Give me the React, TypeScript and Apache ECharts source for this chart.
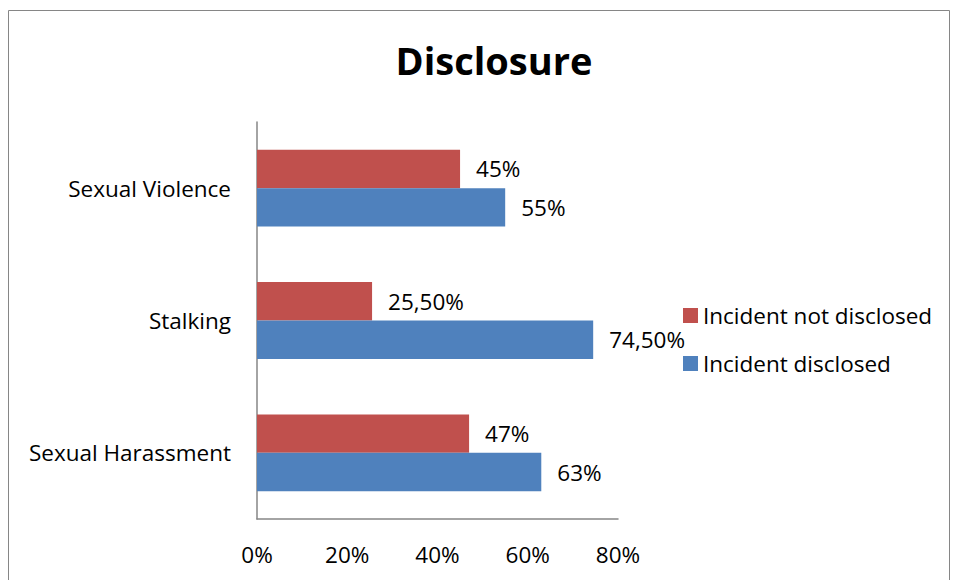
import React, { useEffect, useRef } from "react";
import * as echarts from "echarts";

const categories = ["Sexual Harassment", "Stalking", "Sexual Violence"];
const disclosed = [63, 74.5, 55];
const notDisclosed = [47, 25.5, 45];
const disclosedLabels = ["63%", "74,50%", "55%"];
const notDisclosedLabels = ["47%", "25,50%", "45%"];
const xTicks = [0, 20, 40, 60, 80];

const FONT = "'Open Sans', 'Noto Sans', sans-serif";
const FS = 22.5;

export default function App() {
  const ref = useRef<HTMLDivElement>(null);
  useEffect(() => {
    if (!ref.current) return;
    const chart = echarts.init(ref.current, undefined, { renderer: "svg" });
    const label = (arr: string[]) => ({
      show: true,
      position: "right",
      distance: 16,
      fontFamily: FONT,
      fontSize: FS,
      color: "#000",
      formatter: (p: any) => arr[p.dataIndex],
    });
    chart.setOption({
      animation: false,
      backgroundColor: "#ffffff",
      title: {
        text: "Disclosure",
        left: 489,
        textAlign: "center",
        top: 36,
        textStyle: { fontFamily: FONT, fontSize: 38, fontWeight: "bold", color: "#000" },
      },
      graphic: [
        {
          type: "rect",
          shape: { x: 8.5, y: 10.5, width: 941, height: 620 },
          style: { fill: "none", stroke: "#868686", lineWidth: 1 },
          silent: true,
        },
      ],
      legend: {
        orient: "vertical",
        left: 683,
        top: 304,
        padding: 0,
        itemWidth: 15,
        itemHeight: 15,
        itemGap: 25,
        icon: "rect",
        data: ["Incident not disclosed", "Incident disclosed"],
        textStyle: { fontFamily: FONT, fontSize: FS, color: "#000", lineHeight: 23 },
      },
      grid: { left: 257, right: 339, top: 122, bottom: 61, containLabel: false },
      xAxis: {
        type: "value",
        min: 0,
        max: 80,
        interval: 20,
        axisLine: { show: true, lineStyle: { color: "#868686", width: 1.5 } },
        axisTick: { show: false },
        splitLine: { show: false },
        axisLabel: {
          fontFamily: FONT,
          fontSize: FS,
          color: "#000",
          margin: 24,
          formatter: (v: number) => (xTicks.includes(v) ? `${v}%` : ""),
        },
      },
      yAxis: {
        type: "category",
        data: categories,
        axisLine: { show: true, lineStyle: { color: "#868686", width: 1.5 } },
        axisTick: { show: false },
        axisLabel: { fontFamily: FONT, fontSize: FS, color: "#000", margin: 26 },
      },
      series: [
        {
          name: "Incident not disclosed",
          type: "bar",
          data: notDisclosed,
          itemStyle: { color: "#C0504D" },
          barGap: "0%",
          barCategoryGap: "42%",
          label: label(notDisclosedLabels),
        },
        {
          name: "Incident disclosed",
          type: "bar",
          data: disclosed,
          itemStyle: { color: "#4F81BD" },
          barGap: "0%",
          barCategoryGap: "42%",
          label: label(disclosedLabels),
        },
      ],
    });
    return () => chart.dispose();
  }, []);
  return (
    <div
      ref={ref}
      style={{ position: "fixed", left: 0, top: 0, width: 957, height: 580 }}
    />
  );
}
